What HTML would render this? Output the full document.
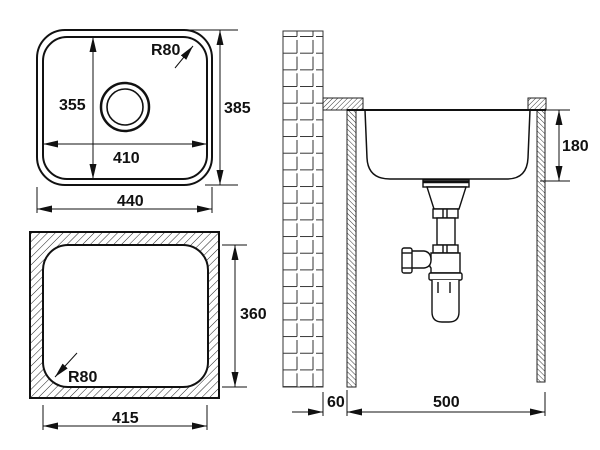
<!DOCTYPE html>
<html><head><meta charset="utf-8"><style>
html,body{margin:0;padding:0;background:#fff;}
svg{display:block;}
text{font-family:"Liberation Sans",Arial,sans-serif;font-weight:bold;font-size:16px;fill:#111;}
</style></head><body>
<svg width="600" height="450" viewBox="0 0 600 450" xmlns="http://www.w3.org/2000/svg">
<defs>
<marker id="ar" markerUnits="userSpaceOnUse" markerWidth="15" markerHeight="7" refX="15" refY="3.5" orient="auto-start-reverse">
<path d="M0,0 L15,3.5 L0,7 z" fill="#111"/>
</marker>
<pattern id="hf" patternUnits="userSpaceOnUse" width="5.5" height="5.5" patternTransform="rotate(45)">
<line x1="0" y1="0" x2="0" y2="5.5" stroke="#222" stroke-width="1"/>
</pattern>
<pattern id="hs" patternUnits="userSpaceOnUse" width="3.5" height="3.5" patternTransform="rotate(45)">
<line x1="0" y1="0" x2="0" y2="3.5" stroke="#222" stroke-width="0.9"/>
</pattern>
<pattern id="hb" patternUnits="userSpaceOnUse" width="3.5" height="3.5" patternTransform="rotate(-45)">
<line x1="0" y1="0" x2="0" y2="3.5" stroke="#222" stroke-width="0.9"/>
</pattern>
<pattern id="brick" patternUnits="userSpaceOnUse" x="283" y="20.33" width="40" height="16.67">
<g stroke="#333" stroke-width="1" fill="none">
<line x1="0" y1="16.2" x2="14" y2="16.2"/>
<line x1="17" y1="16.2" x2="30" y2="16.2"/>
<line x1="33" y1="16.2" x2="40" y2="16.2"/>
<line x1="14" y1="3" x2="14" y2="16.2"/>
<line x1="30" y1="3" x2="30" y2="16.2"/>
</g>
</pattern>
</defs>

<!-- TOP SINK -->
<g fill="none" stroke="#111">
<rect x="37" y="30" width="175" height="155" rx="28" stroke-width="2"/>
<rect x="43" y="37" width="164" height="142" rx="24" stroke-width="2"/>
<circle cx="125" cy="107" r="24" stroke-width="2.5"/>
<circle cx="125" cy="107" r="18" stroke-width="1.6"/>
<g stroke-width="1">
<line x1="93" y1="37" x2="93" y2="179" marker-start="url(#ar)" marker-end="url(#ar)"/>
<line x1="43" y1="144" x2="207" y2="144" marker-start="url(#ar)" marker-end="url(#ar)"/>
<line x1="175" y1="68" x2="193" y2="46" marker-end="url(#ar)"/>
<line x1="188" y1="30" x2="238" y2="30"/>
<line x1="205" y1="185" x2="238" y2="185"/>
<line x1="220" y1="30" x2="220" y2="185" marker-start="url(#ar)" marker-end="url(#ar)"/>
<line x1="37" y1="187" x2="37" y2="213"/>
<line x1="212" y1="187" x2="212" y2="213"/>
<line x1="37" y1="209" x2="212" y2="209" marker-start="url(#ar)" marker-end="url(#ar)"/>
</g>
</g>
<text x="59" y="110">355</text>
<text x="113" y="163">410</text>
<text x="151" y="55">R80</text>
<text x="224" y="113">385</text>
<text x="117" y="206">440</text>

<!-- CUTOUT -->
<path d="M30,232 H219 V398 H30 Z M68,245 H183 A25,25 0 0 1 208,270 V362 A25,25 0 0 1 183,387 H68 A25,25 0 0 1 43,362 V270 A25,25 0 0 1 68,245 Z" fill="url(#hf)" fill-rule="evenodd" stroke="none"/>
<g fill="none" stroke="#111">
<rect x="30" y="232" width="189" height="166" stroke-width="2"/>
<rect x="43" y="245" width="165" height="142" rx="25" stroke-width="2"/>
<g stroke-width="1">
<line x1="222" y1="245" x2="247" y2="245"/>
<line x1="222" y1="387" x2="247" y2="387"/>
<line x1="235" y1="245" x2="235" y2="387" marker-start="url(#ar)" marker-end="url(#ar)"/>
<line x1="77" y1="353" x2="55" y2="377" marker-end="url(#ar)"/>
<line x1="43" y1="405" x2="43" y2="430"/>
<line x1="207" y1="405" x2="207" y2="430"/>
<line x1="43" y1="426" x2="207" y2="426" marker-start="url(#ar)" marker-end="url(#ar)"/>
</g>
</g>
<text x="240" y="319">360</text>
<text x="68" y="382">R80</text>
<text x="112" y="423">415</text>

<!-- WALL -->
<rect x="283" y="31" width="40" height="356" fill="url(#brick)" stroke="#333" stroke-width="1"/>

<!-- countertops & panels -->
<rect x="323" y="98" width="40" height="12" fill="url(#hs)" stroke="#222" stroke-width="1"/>
<rect x="528" y="98" width="18" height="12" fill="url(#hs)" stroke="#222" stroke-width="1"/>
<rect x="347" y="110" width="9" height="277" fill="url(#hb)" stroke="#222" stroke-width="1"/>
<rect x="537" y="110" width="8" height="272" fill="url(#hb)" stroke="#222" stroke-width="1"/>

<!-- sink section -->
<g fill="none" stroke="#111">
<line x1="347" y1="110" x2="546" y2="110" stroke-width="2"/>
<path d="M365,110 L367,158 Q368,179 390,179 L507,179 Q527,179 528,158 L530,110" stroke-width="1.5"/>
<g stroke-width="1">
<line x1="540" y1="110" x2="570" y2="110"/>
<line x1="540" y1="181" x2="570" y2="181"/>
<line x1="559" y1="110" x2="559" y2="181" marker-start="url(#ar)" marker-end="url(#ar)"/>
<line x1="323" y1="392" x2="323" y2="416"/>
<line x1="347" y1="390" x2="347" y2="416"/>
<line x1="545" y1="392" x2="545" y2="416"/>
<line x1="292" y1="412" x2="323" y2="412" marker-end="url(#ar)"/>
<line x1="347" y1="412" x2="545" y2="412" marker-start="url(#ar)" marker-end="url(#ar)"/>
</g>
</g>
<text x="562" y="151">180</text>
<text x="327" y="407">60</text>
<text x="433" y="407">500</text>

<!-- trap -->
<g fill="#fff" stroke="#111" stroke-width="1.4">
<rect x="423" y="180" width="46" height="7"/>
<line x1="423" y1="182" x2="469" y2="182" stroke-width="2.5"/>
<path d="M427,187 L466,187 L459,209 L434,209 Z"/>
<rect x="433" y="209" width="25" height="9"/>
<line x1="443" y1="209" x2="443" y2="218"/>
<line x1="447" y1="209" x2="447" y2="218"/>
<rect x="437" y="218" width="18" height="27"/>
<rect x="433" y="245" width="25" height="8"/>
<line x1="443" y1="245" x2="443" y2="253"/>
<line x1="447" y1="245" x2="447" y2="253"/>
<path d="M431,253 L460,253 L460,273 L431,273 L431,268 Q428,265 431,260 Z"/>
<path d="M411,251 L424,251 Q431,252 431,260 Q431,267 424,268 L411,268 Z"/>
<rect x="402" y="248" width="10" height="25" rx="2"/>
<line x1="402" y1="253" x2="412" y2="253"/>
<line x1="402" y1="268" x2="412" y2="268"/>
<rect x="429" y="273" width="33" height="7" rx="1.5"/>
<path d="M432,280 L432,312 Q432,322 442,322 L449,322 Q459,322 459,312 L459,280"/>
<line x1="438" y1="282" x2="438" y2="293"/>
<line x1="450" y1="282" x2="450" y2="293"/>
</g>
</svg>
</body></html>
